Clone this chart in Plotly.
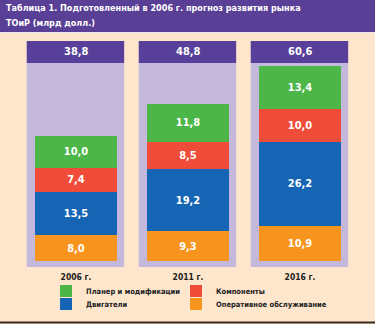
import plotly.graph_objects as go

years = ["2006 г.", "2011 г.", "2016 г."]
ops = [8.0, 9.3, 10.9]
engines = [13.5, 19.2, 26.2]
components = [7.4, 8.5, 10.0]
airframe = [10.0, 11.8, 13.4]
totals = [38.8, 48.8, 60.6]

# (name, values, colour, legend id)
series = [
    ("Оперативное обслуживание", ops, "#f7941d", "legend4"),
    ("Двигатели", engines, "#1565b4", "legend3"),
    ("Компоненты", components, "#ef4c3a", "legend2"),
    ("Планер и модификации", airframe, "#4cb648", "legend"),
]

FONT = "DejaVu Sans Condensed"
PEACH = "#fde6cc"
PURPLE = "#58409a"
LAV = "#c4b9dd"

fig = go.Figure()
for name, vals, col, lg in series:
    fig.add_trace(go.Bar(
        x=years, y=vals, name=name, marker=dict(color=col, line=dict(width=0)),
        width=0.73, text=vals, texttemplate="%{y:.1f}", textposition="inside",
        insidetextanchor="middle", textangle=0,
        textfont=dict(family=FONT, size=11, color="white", weight="bold"),
        legend=lg, hoverinfo="skip",
    ))

Y0, YLAV, YTOP = -1.86, 61.5, 68.3
shapes = []
annotations = []
for i, t in enumerate(totals):
    shapes.append(dict(type="rect", xref="x", yref="y", x0=i - 0.44, x1=i + 0.43,
                       y0=Y0, y1=YLAV, fillcolor=LAV, line=dict(width=0), layer="below"))
    shapes.append(dict(type="rect", xref="x", yref="y", x0=i - 0.44, x1=i + 0.43,
                       y0=YLAV, y1=YTOP, fillcolor=PURPLE, line=dict(width=0), layer="below"))
    annotations.append(dict(x=i, y=(YLAV + YTOP) / 2, xref="x", yref="y",
                            text=f"{t:.1f}".replace(".", ","), showarrow=False,
                            font=dict(family=FONT, size=11, color="white", weight="bold")))

# title bar
shapes.append(dict(type="rect", xref="paper", yref="paper", x0=-0.2, x1=1.2,
                   y0=(267 - 32) / 226, y1=1.3, fillcolor="#5a3f96", line=dict(width=0)))
shapes.append(dict(type="line", xref="paper", yref="paper", x0=-0.2, x1=1.2,
                   y0=(267 - 32.5) / 226, y1=(267 - 32.5) / 226,
                   line=dict(color="#efe3ee", width=1)))
# bottom rule
shapes.append(dict(type="line", xref="paper", yref="paper", x0=-0.2, x1=1.2,
                   y0=(267 - 322.5) / 226, y1=(267 - 322.5) / 226,
                   line=dict(color="#3a2a20", width=2)))

title_lines = ["Таблица 1. Подготовленный в 2006 г. прогноз развития рынка",
               "ТОиР (млрд долл.)"]
for line, ypx in zip(title_lines, [8.5, 22.5]):
    annotations.append(dict(xref="paper", yref="paper", x=(4 - 20) / 336, y=(267 - ypx) / 226,
                            xanchor="left", yanchor="middle", align="left", showarrow=False,
                            text=line,
                            font=dict(family=FONT, size=9, color="white", weight="bold")))

def legend_at(xpx, ypx):
    return dict(orientation="h", xanchor="left", yanchor="top",
                x=(xpx - 20) / 336, y=(267 - ypx) / 226,
                itemwidth=30, tracegroupgap=0,
                font=dict(family=FONT, size=7.5, color="#222222", weight="bold"),
                bgcolor="rgba(0,0,0,0)")

fig.update_layout(
    width=375, height=324,
    margin=dict(l=20, r=19, t=41, b=57, autoexpand=False),
    paper_bgcolor=PEACH, plot_bgcolor=PEACH,
    barmode="stack", separators=", ",
    shapes=shapes, annotations=annotations,
    showlegend=True,
    legend=legend_at(46, 276.5),
    legend2=legend_at(176, 276.5),
    legend3=legend_at(46, 289.5),
    legend4=legend_at(176, 289.5),
    xaxis=dict(range=[-0.5, 2.5], showgrid=False, zeroline=False, showline=False,
               ticks="", ticklabelstandoff=3,
               tickfont=dict(family=FONT, size=8.5, color="#222222", weight="bold"),
               fixedrange=True),
    yaxis=dict(range=[Y0, YTOP], visible=False, fixedrange=True),
)

fig.write_html("out.html")
